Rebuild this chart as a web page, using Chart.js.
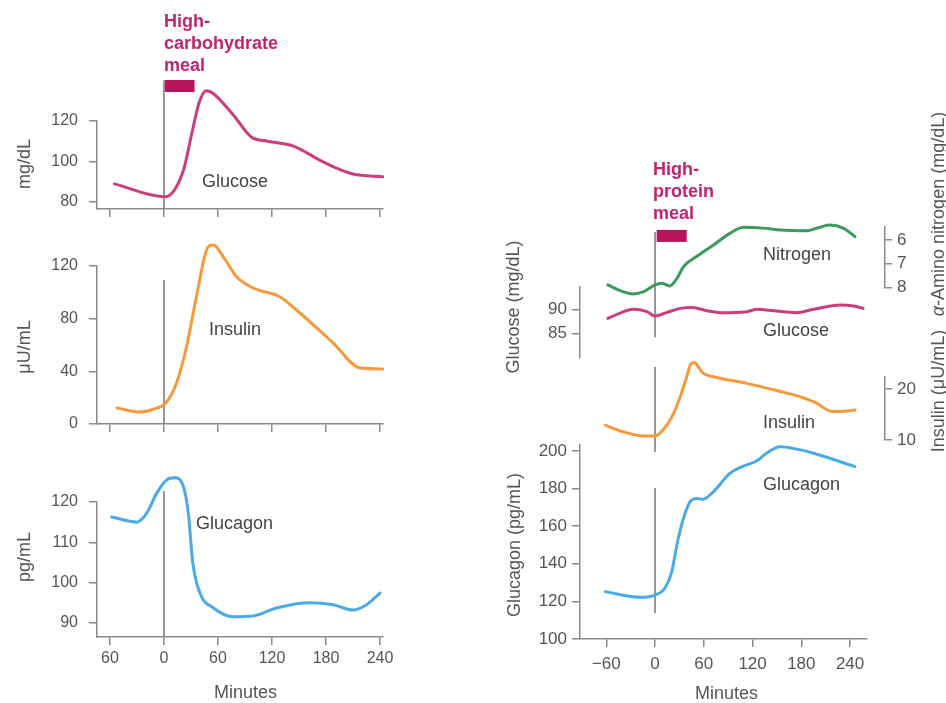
<!DOCTYPE html>
<html><head><meta charset="utf-8">
<script src="https://cdn.jsdelivr.net/npm/chart.js@4.4.1/dist/chart.umd.min.js"></script>
<style>
html,body{margin:0;padding:0;background:#fff;}
#wrap{position:relative;width:946px;height:703px;overflow:hidden;font-family:"Liberation Sans",Arial,Helvetica,sans-serif;}
canvas{position:absolute;left:0;top:0;}
.lbl{position:absolute;font-size:18px;line-height:20px;color:#444;white-space:nowrap;}
.ttl{position:absolute;font-size:18px;font-weight:bold;line-height:22px;color:#c2226e;white-space:nowrap;}
.ax{position:absolute;font-size:18px;line-height:20px;color:#555;white-space:nowrap;transform:translate(-50%,-50%) rotate(-90deg);}
</style></head><body><div id="wrap">
<canvas id="cL1" width="946" height="703"></canvas>
<canvas id="cL2" width="946" height="703"></canvas>
<canvas id="cL3" width="946" height="703"></canvas>
<canvas id="cR1" width="946" height="703"></canvas>
<canvas id="cR2" width="946" height="703"></canvas>
<canvas id="cR3" width="946" height="703"></canvas>
<canvas id="cR4" width="946" height="703"></canvas>

<div class="ttl" style="left:164px;top:10px;">High-<br>carbohydrate<br>meal</div>
<div class="ttl" style="left:653px;top:158px;">High-<br>protein<br>meal</div>

<div class="lbl" style="left:202px;top:171px;">Glucose</div>
<div class="lbl" style="left:209px;top:319px;">Insulin</div>
<div class="lbl" style="left:196px;top:513px;">Glucagon</div>
<div class="lbl" style="left:763px;top:244px;">Nitrogen</div>
<div class="lbl" style="left:763px;top:320px;">Glucose</div>
<div class="lbl" style="left:763px;top:412px;">Insulin</div>
<div class="lbl" style="left:763px;top:474px;">Glucagon</div>
<div class="lbl" style="left:214px;top:682px;color:#555;">Minutes</div>
<div class="lbl" style="left:695px;top:683px;color:#555;">Minutes</div>

<div class="ax" style="left:24px;top:164px;">mg/dL</div>
<div class="ax" style="left:24px;top:347px;">μU/mL</div>
<div class="ax" style="left:24px;top:557px;">pg/mL</div>
<div class="ax" style="left:513px;top:307px;">Glucose (mg/dL)</div>
<div class="ax" style="left:514px;top:545px;">Glucagon (pg/mL)</div>
<div class="ax" style="left:938px;top:214px;"><i>α</i>-Amino nitrogen (mg/dL)</div>
<div class="ax" style="left:938px;top:391px;">Insulin (μU/mL)</div>
</div>
<script>
// ---------- DATA ----------
// High-carbohydrate meal (left)
const carbGlucoseMin = [-55, 1, 21, 31, 39, 47, 55, 77, 97, 115, 143, 173, 188, 210, 243];
const carbGlucose    = [88.9, 82.5, 94.8, 114, 129, 135, 133.5, 123, 112.1, 110, 107.7, 100.7, 97.4, 93.8, 92.4];
const carbInsulinMin = [-52, -27, -12, 2, 14, 25, 36, 49, 55, 66, 81, 99, 129, 151, 188, 218, 243];
const carbInsulin    = [12.1, 9.1, 11.2, 15.9, 31.1, 58.5, 96.5, 134.5, 136, 126.8, 111.6, 103.3, 96.5, 84.3, 61.5, 42.5, 41.8];
const carbGlucagonMin = [-58, -30, -19, -8, 3, 12, 21, 27, 32, 40, 55, 77, 99, 125, 162, 188, 210, 225, 240];
const carbGlucagon    = [116.3, 115, 117.3, 122.2, 125.5, 126, 124.2, 117.3, 104.9, 97.4, 93.7, 91.5, 91.7, 93.7, 95, 94.5, 93.2, 94.5, 97.4];
// High-protein meal (right)
const protNitrogenMin = [-58, -43, -27, -14, 0, 8, 18, 27, 35, 51, 72, 92, 109, 133, 154, 187, 203, 215, 232, 246];
const protNitrogen    = [7.90, 8.14, 8.28, 8.18, 7.90, 7.83, 7.94, 7.62, 7.13, 6.70, 6.21, 5.72, 5.46, 5.50, 5.58, 5.61, 5.46, 5.37, 5.51, 5.86];
const protGlucoseMin = [-58, -43, -27, -10, 0, 14, 31, 45, 64, 80, 113, 125, 146, 174, 195, 228, 244, 256];
const protGlucose    = [88.1, 89.2, 90.0, 89.5, 88.6, 89.3, 90.2, 90.4, 89.7, 89.3, 89.5, 90.0, 89.7, 89.3, 90.0, 90.9, 90.7, 90.2];
const protInsulinMin = [-61, -39, -14, 0, 10, 21, 31, 39, 44, 49, 53, 59, 72, 113, 154, 178, 199, 213, 219, 236, 246];
const protInsulin    = [12.9, 11.6, 10.8, 10.8, 12.0, 14.6, 18.5, 22.4, 24.9, 25.2, 24.4, 23.1, 22.4, 21.1, 19.5, 18.5, 17.2, 15.8, 15.6, 15.7, 15.9];
const protGlucagonMin = [-61, -18, 0, 12, 20, 29, 37, 43, 51, 59, 72, 92, 109, 125, 137, 154, 170, 195, 246];
const protGlucagon    = [125.2, 122.2, 123.4, 127, 134.9, 154.4, 166.9, 173, 174.8, 174.3, 178.4, 188.1, 192, 194.7, 198.8, 202.3, 201.4, 198.8, 191.7];
// meal timing (minutes)
const mealStart = 0;
const carbMealEnd = 34;
const protMealEnd = 39;
// ticks
const xTicks = [-60, 0, 60, 120, 180, 240];
const leftXTickLabels = ['60', '0', '60', '120', '180', '240'];
const rightXTickLabels = ['\u221260', '0', '60', '120', '180', '240'];
const carbGlucoseTicks = [80, 100, 120];
const carbInsulinTicks = [0, 40, 80, 120];
const carbGlucagonTicks = [90, 100, 110, 120];
const protNitrogenTicks = [6, 7, 8];
const protGlucoseTicks = [85, 90];
const protInsulinTicks = [10, 20];
const protGlucagonTicks = [100, 120, 140, 160, 180, 200];

// ---------- STYLE ----------
Chart.defaults.font.family = '"Liberation Sans", Arial, Helvetica, sans-serif';
const AX = '#8a8a8a', TXT = '#555';
const C_GLU = '#cc3d7e', C_INS = '#f5993c', C_GCG = '#4aaae8', C_NIT = '#3c9a5c', C_BAR = '#b9155d', C_VL = '#767676';

function pts(mins, vals) { return mins.map((m, i) => ({x: m, y: vals[i]})); }
function series(mins, vals, color) {
  return {data: pts(mins, vals), borderColor: color, borderWidth: 3, pointRadius: 0, fill: false,
    cubicInterpolationMode: 'monotone', clip: false, borderJoinStyle: 'round', borderCapStyle: 'round'};
}
function vline(x, y0, y1) {
  return {data: [{x: x, y: y0}, {x: x, y: y1}], borderColor: C_VL, borderWidth: 1.5, pointRadius: 0, tension: 0, clip: false};
}
function mealBar(x0, x1, y) {
  return {data: [{x: x0, y: y}, {x: x1, y: y}], borderColor: C_BAR, borderWidth: 12, borderCapStyle: 'butt', pointRadius: 0, tension: 0, clip: false};
}

function makeChart(id, c) {
  const W = 946, H = 703, YW = 60, XH = 40;
  const pad = {
    left: c.yPos === 'left' ? c.area.l - YW : c.area.l,
    right: c.yPos === 'right' ? W - c.area.r - YW : W - c.area.r,
    top: c.area.t,
    bottom: c.xShow ? H - c.area.b - XH : H - c.area.b
  };
  return new Chart(document.getElementById(id), {
    type: 'line',
    data: {datasets: c.datasets},
    options: {
      responsive: false, animation: false, devicePixelRatio: 1,
      layout: {padding: pad},
      plugins: {legend: {display: false}, tooltip: {enabled: false}},
      events: [],
      scales: {
        x: {
          type: 'linear', min: c.xMin, max: c.xMax, display: !!c.xShow,
          afterFit: s => { s.height = c.xShow ? XH : 0; },
          afterBuildTicks: s => { s.ticks = xTicks.map(v => ({value: v})); },
          ticks: {autoSkip: false, maxRotation: 0, font: {size: c.xFont || 16}, color: TXT, padding: c.xPad || 4,
            callback: (v, i) => c.xLabels ? c.xLabels[i] : ''},
          grid: {display: true, drawOnChartArea: false, drawTicks: true, tickLength: 8, color: AX, lineWidth: 1.5},
          border: {display: true, color: AX, width: 1.5}
        },
        y: {
          type: 'linear', min: c.yMin, max: c.yMax, reverse: !!c.reverse,
          position: c.yPos || 'left', display: !!c.yPos,
          afterFit: s => { s.width = c.yPos ? YW : 0; },
          afterBuildTicks: s => { s.ticks = c.yTicks.map(v => ({value: v})); },
          ticks: {autoSkip: false, font: {size: c.yFont || 16}, color: TXT, padding: c.yPad, callback: v => String(v)},
          grid: {display: true, drawOnChartArea: false, drawTicks: true, tickLength: c.yTL, color: AX, lineWidth: 1.5},
          border: {display: true, color: AX, width: 1.5}
        }
      }
    }
  });
}

// Left panel
const LX = {xMin: -74.4, xMax: 243.3};
makeChart('cL1', Object.assign({}, LX, {
  area: {l: 97, t: 121, r: 383, b: 209}, yMin: 76.5, yMax: 120, yTicks: carbGlucoseTicks,
  yPos: 'left', yTL: 8, yPad: 11, xShow: true, xLabels: null,
  datasets: [series(carbGlucoseMin, carbGlucose, C_GLU), mealBar(mealStart + 1, carbMealEnd, 137.3), vline(mealStart, 140.2, 76.5)]
}));
makeChart('cL2', Object.assign({}, LX, {
  area: {l: 97, t: 266, r: 383, b: 424}, yMin: 0, yMax: 120, yTicks: carbInsulinTicks,
  yPos: 'left', yTL: 8, yPad: 11, xShow: true, xLabels: null,
  datasets: [series(carbInsulinMin, carbInsulin, C_INS), vline(mealStart, 109.3, 0)]
}));
makeChart('cL3', Object.assign({}, LX, {
  area: {l: 97, t: 502, r: 383, b: 637}, yMin: 86.5, yMax: 120, yTicks: carbGlucagonTicks,
  yPos: 'left', yTL: 8, yPad: 11, xShow: true, xLabels: leftXTickLabels, xPad: 4,
  datasets: [series(carbGlucagonMin, carbGlucagon, C_GCG), vline(mealStart, 122.7, 86.5)]
}));

// Right panel
const RX = {xMin: -92.3, xMax: 282.9};
makeChart('cR1', Object.assign({}, RX, {
  area: {l: 580, t: 226.7, r: 885, b: 287.3}, yMin: 5.44, yMax: 8, reverse: true, yTicks: protNitrogenTicks,
  yPos: 'right', yTL: 7, yPad: 5, yFont: 17, xShow: false,
  datasets: [series(protNitrogenMin, protNitrogen, C_NIT)]
}));
makeChart('cR2', Object.assign({}, RX, {
  area: {l: 580, t: 287, r: 885, b: 358}, yMin: 79.85, yMax: 94.65, yTicks: protGlucoseTicks,
  yPos: 'left', yTL: 8, yPad: 5, yFont: 17, xShow: false,
  datasets: [series(protGlucoseMin, protGlucose, C_GLU), mealBar(mealStart + 2, protMealEnd, 105.3), vline(mealStart, 106.1, 84.2)]
}));
makeChart('cR3', Object.assign({}, RX, {
  area: {l: 580, t: 377, r: 885, b: 440}, yMin: 10, yMax: 22.35, yTicks: protInsulinTicks,
  yPos: 'right', yTL: 7, yPad: 5, yFont: 17, xShow: false,
  datasets: [series(protInsulinMin, protInsulin, C_INS), vline(mealStart, 24.3, 7.65)]
}));
makeChart('cR4', {
  xMin: -92.3, xMax: 260.8,
  area: {l: 580, t: 445, r: 867, b: 639}, yMin: 100, yMax: 203.2, yTicks: protGlucagonTicks,
  yPos: 'left', yTL: 8, yPad: 5, yFont: 17, xShow: true, xLabels: rightXTickLabels, xPad: 7, xFont: 17,
  datasets: [series(protGlucagonMin, protGlucagon, C_GCG), vline(mealStart, 180.3, 113.8)]
});
</script>
</body></html>
